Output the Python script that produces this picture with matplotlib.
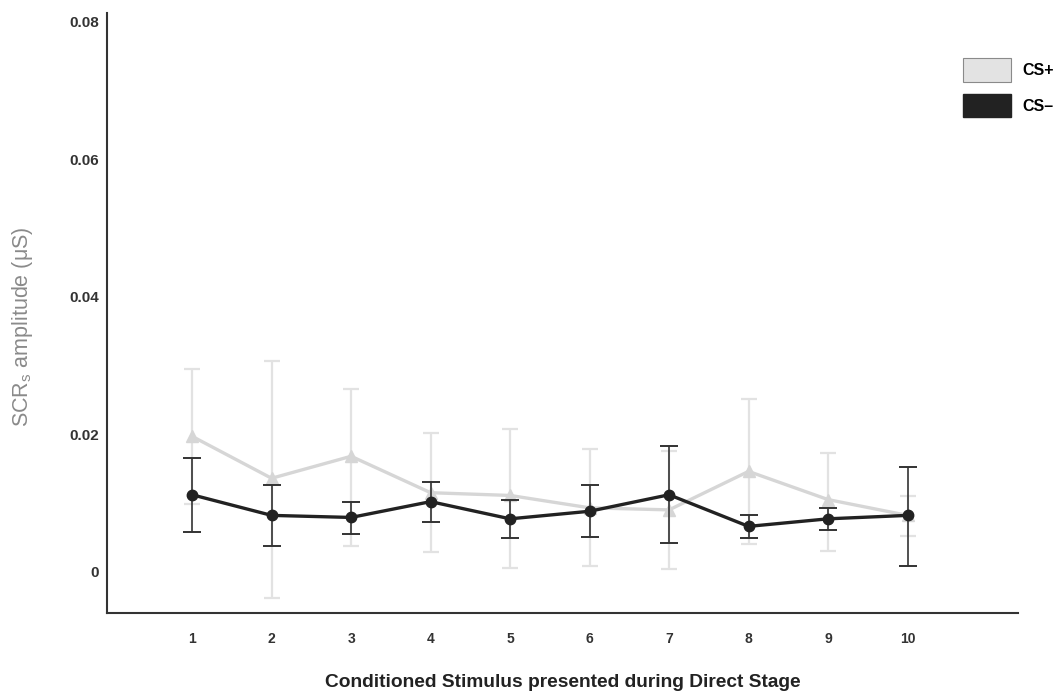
"""
SCR amplitude per conditioned stimulus (Direct Stage), CS+ vs CS-
"""

import matplotlib
matplotlib.use('Agg')
import matplotlib.pyplot as plt
from matplotlib.patches import Patch
import numpy as np

plt.rcParams['font.family'] = ['Liberation Sans', 'DejaVu Sans']
NARROW = ['Liberation Sans Narrow', 'Liberation Sans', 'DejaVu Sans']

# data
trials = [1, 2, 3, 4, 5, 6, 7, 8, 9, 10]
tick_labels = ['1', '2', '3', '4', '5', '6', '7', '8', '9', '10']

cs_plus_mean = [0.0197, 0.0136, 0.0168, 0.0115, 0.0111, 0.0093, 0.0090, 0.0146, 0.0105, 0.0082]
cs_plus_err_low = [0.0098, 0.0174, 0.0130, 0.0087, 0.0105, 0.0084, 0.0086, 0.0106, 0.0075, 0.0030]
cs_plus_err_high = [0.0098, 0.0170, 0.0098, 0.0087, 0.0096, 0.0085, 0.0086, 0.0105, 0.0068, 0.0028]

cs_minus_mean = [0.0112, 0.0082, 0.0079, 0.0102, 0.0077, 0.0088, 0.0112, 0.0066, 0.0077, 0.0082]
cs_minus_low = [0.0058, 0.0038, 0.0055, 0.0072, 0.0049, 0.0050, 0.0042, 0.0049, 0.0061, 0.0009]
cs_minus_high = [0.0166, 0.0126, 0.0102, 0.0131, 0.0105, 0.0126, 0.0183, 0.0082, 0.0093, 0.0152]

y_ticks = [0, 0.02, 0.04, 0.06, 0.08]
y_tick_labels = ['0', '0.02', '0.04', '0.06', '0.08']

LIGHT = '#d6d6d6'
LIGHT_ERR = '#e2e2e2'
DARK = '#222222'

fig = plt.figure(figsize=(10.62, 6.92), dpi=100)
ax = fig.add_axes([0.1008, 0.1142, 0.8578, 0.867])

# CS+ (light, triangles)
ax.errorbar(
    trials, cs_plus_mean,
    yerr=[cs_plus_err_low, cs_plus_err_high],
    fmt='none', ecolor=LIGHT_ERR, elinewidth=1.6, capsize=5.5, capthick=1.6,
    zorder=1
)
ax.plot(trials, cs_plus_mean, color=LIGHT, linewidth=2.4,
        marker='^', markersize=9, zorder=2)

# CS- (dark, circles)
m = np.array(cs_minus_mean)
lo = m - np.array(cs_minus_low)
hi = np.array(cs_minus_high) - m
ax.errorbar(
    trials, cs_minus_mean, yerr=[lo, hi],
    fmt='none', ecolor='#333333', elinewidth=1.2, capsize=6.5, capthick=1.4,
    zorder=3
)
ax.plot(trials, cs_minus_mean, color=DARK, linewidth=2.4,
        marker='o', markersize=7.5, zorder=4)

ax.set_xlim(-0.07, 11.39)
ax.set_ylim(-0.006, 0.0813)
ax.set_xticks(trials)
ax.set_xticklabels(tick_labels, fontsize=10, fontweight='bold', color='#333333')
ax.set_yticks(y_ticks)
ax.set_yticklabels(y_tick_labels, fontsize=11, fontweight='bold', color='#333333')
ax.tick_params(axis='both', length=0)
ax.tick_params(axis='x', pad=14)
ax.tick_params(axis='y', pad=6)

for side in ['top', 'right']:
    ax.spines[side].set_visible(False)
for side in ['left', 'bottom']:
    ax.spines[side].set_color('#333333')
    ax.spines[side].set_linewidth(1.5)

ax.set_ylabel('SCR$_{\\mathregular{s}}$ amplitude (\u03bcS)', fontsize=15.5,
              color='#8a8a8a', family=NARROW)
ax.yaxis.set_label_coords(-0.079, 0.477)
ax.set_xlabel('Conditioned Stimulus presented during Direct Stage',
              fontsize=13.8, fontweight='bold', color='#222222', labelpad=20)

handles = [
    Patch(facecolor='#e3e3e3', edgecolor='#8a8a8a', linewidth=0.8, label='CS+'),
    Patch(facecolor=DARK, edgecolor=DARK, label='CS\u2013'),
]
fig.legend(
    handles=handles, loc='upper left', bbox_to_anchor=(0.893, 0.937),
    frameon=False, handlelength=3.0, handleheight=1.9,
    handletextpad=0.76, labelspacing=0.75,
    prop={'weight': 'bold', 'size': 11.5, 'family': NARROW}
)

plt.savefig('out.png', dpi=100)
plt.close()
